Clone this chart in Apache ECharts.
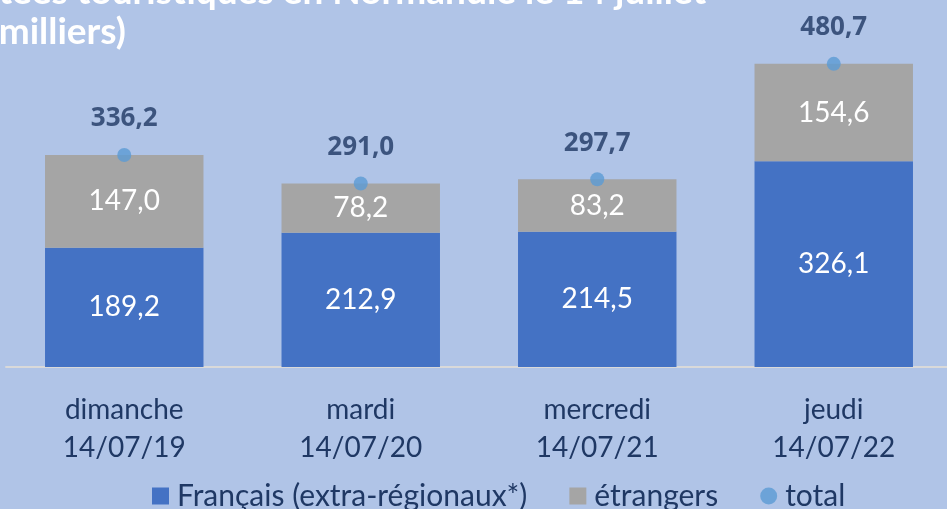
<!DOCTYPE html>
<html><head><meta charset="utf-8">
<script src="https://cdn.jsdelivr.net/npm/echarts@6/dist/echarts.min.js"></script>
<style>html,body{margin:0;padding:0;background:#B0C4E7;}#c{width:947px;height:509px;}</style>
</head><body><div id="c"></div>
<script>
const categories = ['dimanche\n14/07/19', 'mardi\n14/07/20', 'mercredi\n14/07/21', 'jeudi\n14/07/22'];
const francais = [189.2, 212.9, 214.5, 326.1];
const etrangers = [147.0, 78.2, 83.2, 154.6];
const total = [336.2, 291.0, 297.7, 480.7];
const seriesNames = ['Français (extra-régionaux*)', 'étrangers', 'total'];

const fmt = p => p.value.toFixed(1).replace('.', ',');
const FONT = 'Lato';
const NAVY = '#1F3864';

const chart = echarts.init(document.getElementById('c'), null, {renderer: 'canvas'});
chart.setOption({
  backgroundColor: '#B0C4E7',
  animation: false,
  title: {
    text: 'Nuitées touristiques en Normandie le 14 juillet\n(en milliers)',
    left: -60, top: -28, padding: 0,
    textStyle: {color: '#FFFFFF', fontFamily: FONT, fontWeight: 'bold', fontSize: 37, lineHeight: 40}
  },
  legend: {
    left: 147, top: 476, itemWidth: 17, itemHeight: 17, itemGap: 42,
    data: [
      {name: seriesNames[0], icon: 'rect'},
      {name: seriesNames[1], icon: 'rect'},
      {name: seriesNames[2], icon: 'circle'}
    ],
    textStyle: {color: NAVY, fontFamily: FONT, fontSize: 30, padding: [0, 0, 0, 3]}
  },
  grid: {left: 6, width: 946, top: 51.7, bottom: 142, containLabel: false, outerBoundsMode: 'none'},
  xAxis: {
    type: 'category', data: categories,
    axisLine: {show: true, lineStyle: {color: '#D9D9D9', width: 2}},
    axisTick: {show: false},
    axisLabel: {color: NAVY, fontFamily: FONT, fontSize: 28, lineHeight: 38, margin: 24}
  },
  yAxis: {type: 'value', min: 0, max: 500, show: false, splitLine: {show: false}},
  series: [
    {
      name: seriesNames[0], type: 'bar', stack: 's', data: francais, barWidth: '67%',
      itemStyle: {color: '#4472C4'},
      label: {show: true, position: 'inside', formatter: fmt, color: '#FFFFFF', fontFamily: FONT, fontSize: 28}
    },
    {
      name: seriesNames[1], type: 'bar', stack: 's', data: etrangers, barWidth: '67%',
      itemStyle: {color: '#A5A5A5'},
      label: {show: true, position: 'inside', formatter: fmt, color: '#FFFFFF', fontFamily: FONT, fontSize: 28}
    },
    {
      name: seriesNames[2], type: 'scatter', data: total, symbol: 'circle', symbolSize: 14, z: 5,
      itemStyle: {color: '#5B9BD5'},
      label: {show: true, position: 'top', distance: 16, formatter: fmt, color: NAVY, fontFamily: 'Open Sans', fontWeight: 'bold', fontSize: 26}
    }
  ]
});
</script></body></html>
